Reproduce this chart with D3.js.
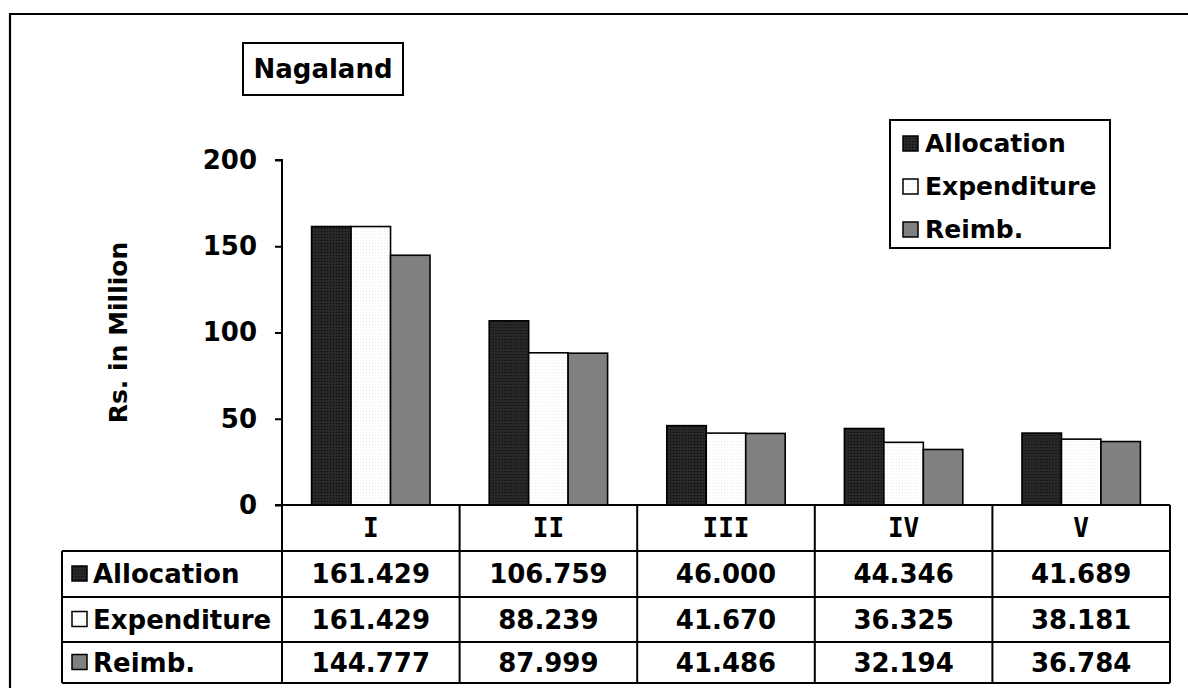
<!DOCTYPE html>
<html>
<head>
<meta charset="utf-8">
<script src="https://cdn.jsdelivr.net/npm/d3@7"></script>
<style>
  html, body { margin: 0; padding: 0; background: #fff; }
  svg { display: block; }
  text { font-family: "DejaVu Sans", Verdana, sans-serif; font-weight: bold; fill: #000; }
</style>
</head>
<body>
<svg id="chart" width="1188" height="688"></svg>
<script>
// Phases and the three series (Rs. in Million)
const phases = ["I", "II", "III", "IV", "V"];
const seriesNames = ["Allocation", "Expenditure", "Reimb."];
const allocation = [161.429, 106.759, 46.000, 44.346, 41.689];
const expenditure = [161.429, 88.239, 41.670, 36.325, 38.181];
const reimb = [144.777, 87.999, 41.486, 32.194, 36.784];
const yTicks = [0, 50, 100, 150, 200];
const tableText = [
  ["161.429", "106.759", "46.000", "44.346", "41.689"],
  ["161.429", "88.239", "41.670", "36.325", "38.181"],
  ["144.777", "87.999", "41.486", "32.194", "36.784"]
];
const seriesValues = [allocation, expenditure, reimb];

const svg = d3.select("#chart");
const defs = svg.append("defs");

// Fine textures for the bar fills
const pA = defs.append("pattern").attr("id", "fillAlloc").attr("width", 3).attr("height", 3).attr("patternUnits", "userSpaceOnUse");
pA.append("rect").attr("width", 3).attr("height", 3).attr("fill", "#242424");
pA.append("rect").attr("width", 1).attr("height", 1).attr("fill", "#0e0e0e");
pA.append("rect").attr("x", 1.5).attr("y", 1.5).attr("width", 1).attr("height", 1).attr("fill", "#3a3a3a");

const pE = defs.append("pattern").attr("id", "fillExp").attr("width", 3).attr("height", 3).attr("patternUnits", "userSpaceOnUse");
pE.append("rect").attr("width", 3).attr("height", 3).attr("fill", "#ffffff");
pE.append("rect").attr("width", 1).attr("height", 1).attr("fill", "#f2e4e8");

const fills = { "Allocation": "url(#fillAlloc)", "Expenditure": "url(#fillExp)", "Reimb.": "#808080" };

// Outer frame
svg.append("path")
  .attr("d", "M10,700 L10,14 L1200,14")
  .attr("fill", "none").attr("stroke", "#000").attr("stroke-width", 2.2);

// Plot geometry
const x0 = 282, x1 = 1170, yZero = 505, yTop = 160;
const x = d3.scaleBand().domain(phases).range([x0, x1]).paddingInner(0).paddingOuter(0);
const xs = d3.scaleBand().domain(seriesNames).range([0, x.bandwidth()]).paddingInner(0).paddingOuter(0.75);
const y = d3.scaleLinear().domain([0, 200]).range([yZero, yTop]);

// Y axis
const yAxis = svg.append("g").attr("transform", `translate(${x0},0)`)
  .call(d3.axisLeft(y).tickValues(yTicks).tickSize(7).tickPadding(18).tickFormat(d3.format("d")));
yAxis.select(".domain").attr("stroke-width", 2).attr("d", `M-7,${yTop}H0V${yZero}`);
yAxis.selectAll(".tick line").attr("stroke-width", 2);
yAxis.selectAll(".tick text").style("font-size", "26px").style("font-family", "'DejaVu Sans', sans-serif").style("font-weight", "bold").attr("fill", "#000");

// Y axis title
svg.append("text")
  .attr("transform", `translate(127,${(yTop + yZero) / 2}) rotate(-90)`)
  .attr("text-anchor", "middle")
  .style("font-size", "25px")
  .text("Rs. in Million");

// Bars
const groups = svg.append("g").selectAll("g")
  .data(phases)
  .join("g")
  .attr("transform", d => `translate(${x(d)},0)`);

groups.selectAll("rect")
  .data((p, i) => seriesNames.map((s, k) => ({ s, v: seriesValues[k][i] })))
  .join("rect")
  .attr("x", d => xs(d.s))
  .attr("width", xs.bandwidth())
  .attr("y", d => y(d.v))
  .attr("height", d => yZero - y(d.v))
  .attr("fill", d => fills[d.s])
  .attr("stroke", "#000")
  .attr("stroke-width", 1.6);

// Data table
const rowY = [yZero, 551, 597, 642, 683];
const labelX0 = 62;
const tbl = svg.append("g").attr("stroke", "#000").attr("stroke-width", 2).attr("fill", "none");

// horizontal rules
tbl.append("line").attr("x1", x0 - 7).attr("x2", x1).attr("y1", rowY[0]).attr("y2", rowY[0]);
for (let r = 1; r < rowY.length; r++) {
  tbl.append("line").attr("x1", labelX0).attr("x2", x1).attr("y1", rowY[r]).attr("y2", rowY[r]);
}
// vertical rules
tbl.append("line").attr("x1", labelX0).attr("x2", labelX0).attr("y1", rowY[1]).attr("y2", rowY[4]);
phases.forEach(p => {
  tbl.append("line").attr("x1", x(p)).attr("x2", x(p)).attr("y1", rowY[0]).attr("y2", rowY[4]);
});
tbl.append("line").attr("x1", x1).attr("x2", x1).attr("y1", rowY[0]).attr("y2", rowY[4]);

// category headers
svg.append("g").selectAll("text")
  .data(phases)
  .join("text")
  .attr("x", d => x(d) + x.bandwidth() / 2)
  .attr("y", (rowY[0] + rowY[1]) / 2 + 9)
  .attr("text-anchor", "middle")
  .style("font-family", "'DejaVu Sans Mono', monospace")
  .style("font-size", "26px")
  .text(d => d);

// row labels with keys
seriesNames.forEach((s, k) => {
  const cy = (rowY[k + 1] + rowY[k + 2]) / 2;
  svg.append("rect")
    .attr("x", 72).attr("y", cy - 8).attr("width", 15).attr("height", 15)
    .attr("fill", fills[s]).attr("stroke", "#000").attr("stroke-width", 1.5);
  svg.append("text")
    .attr("x", 93).attr("y", cy + 9)
    .style("font-size", "26px")
    .text(s);
  phases.forEach((p, i) => {
    svg.append("text")
      .attr("x", x(p) + x.bandwidth() / 2)
      .attr("y", cy + 9)
      .attr("text-anchor", "middle")
      .style("font-size", "26px")
      .text(tableText[k][i]);
  });
});

// Title box
svg.append("rect").attr("x", 243).attr("y", 43).attr("width", 160).attr("height", 52)
  .attr("fill", "#fff").attr("stroke", "#000").attr("stroke-width", 2);
svg.append("text").attr("x", 323).attr("y", 78).attr("text-anchor", "middle")
  .style("font-size", "26px").text("Nagaland");

// Legend
const lg = svg.append("g");
lg.append("rect").attr("x", 890).attr("y", 120).attr("width", 220).attr("height", 128)
  .attr("fill", "#fff").attr("stroke", "#000").attr("stroke-width", 2);
seriesNames.forEach((s, k) => {
  const cy = 143 + k * 43;
  lg.append("rect").attr("x", 903).attr("y", cy - 7).attr("width", 15).attr("height", 15)
    .attr("fill", fills[s]).attr("stroke", "#000").attr("stroke-width", 1.5);
  lg.append("text").attr("x", 925).attr("y", cy + 9).style("font-size", "25px").text(s);
});
</script>
</body>
</html>
